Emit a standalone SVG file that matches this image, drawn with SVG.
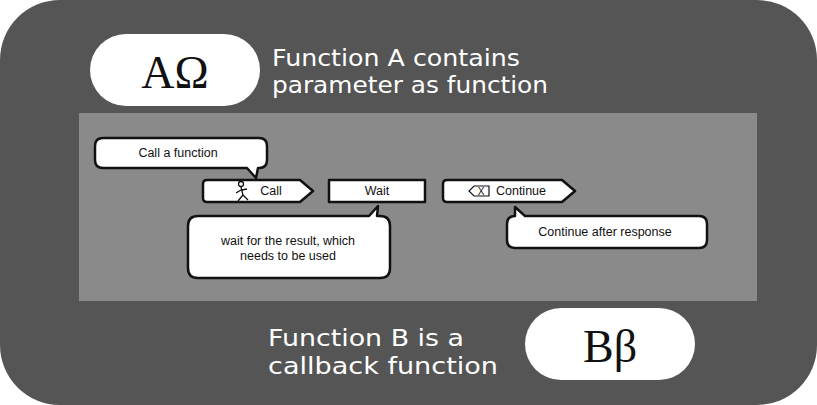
<svg xmlns="http://www.w3.org/2000/svg" width="817" height="405" viewBox="0 0 817 405">
<style>
.w{fill:#fff;stroke:#111;stroke-width:2.5;stroke-linejoin:round}
.t{font-family:"Liberation Sans",Arial,sans-serif;font-size:12.5px;fill:#111;text-anchor:middle}
.h{font-family:"DejaVu Sans",sans-serif;font-size:23px;fill:#fff}
.g{font-family:"Liberation Serif","Times New Roman",serif;font-size:46px;fill:#111;text-anchor:middle}
</style>
<rect x="0" y="0" width="817" height="405" rx="60" fill="#555"/>
<rect x="79" y="113" width="678" height="188" fill="#8a8a8a"/>
<g id="pillA"><rect x="90" y="34" width="170" height="72" rx="36" fill="#fff"/><text class="g" x="175" y="88">AΩ</text></g>
<g id="labelA"><text class="h" x="272" y="66" textLength="248" lengthAdjust="spacingAndGlyphs">Function A contains</text><text class="h" x="272" y="93" textLength="276" lengthAdjust="spacingAndGlyphs">parameter as function</text></g>
<g id="pillB"><rect x="525" y="308" width="170" height="72" rx="36" fill="#fff"/><text class="g" x="610" y="362">Bβ</text></g>
<g id="labelB"><text class="h" x="268" y="346" textLength="196" lengthAdjust="spacingAndGlyphs">Function B is a</text><text class="h" x="268" y="374" textLength="230" lengthAdjust="spacingAndGlyphs">callback function</text></g>
<g id="bubbleCall"><path class="w" d="M103,138 H259 Q267,138 267,146 V160 Q267,168 259,168 H258 L256,178 L247,168 H103 Q95,168 95,160 V146 Q95,138 103,138 Z"/><text class="t" x="178" y="157">Call a function</text></g>
<g id="call"><path class="w" d="M207,180 H300 L313,191 L300,202 H207 Q203,202 203,198 V184 Q203,180 207,180 Z"/>
<g fill="none" stroke="#111" stroke-width="1.3"><circle cx="241" cy="184" r="2.5"/><path d="M241,187 L243,195 L238,201 M243,195 L248,200 M241,190 L236,193 M242,190 L247,189"/></g>
<text class="t" x="271" y="195">Call</text></g>
<g id="wait"><rect class="w" x="329" y="180" width="96" height="22"/><text class="t" x="377" y="195">Wait</text></g>
<g id="continue"><path class="w" d="M447,180 H562 L575,191 L562,202 H447 Q443,202 443,198 V184 Q443,180 447,180 Z"/>
<path d="M474,186 H489 V196 H474 L469,191 Z" fill="none" stroke="#111" stroke-width="1.2"/><text x="481" y="195" font-family="Liberation Sans,sans-serif" font-size="10" text-anchor="middle" fill="#111">X</text>
<text class="t" x="521" y="195">Continue</text></g>
<g id="bubbleWait"><path class="w" d="M198,216 H369 L378,206 L377,216 H380 Q390,216 390,226 V268 Q390,278 380,278 H198 Q188,278 188,268 V226 Q188,216 198,216 Z"/><text class="t" x="288" y="245">wait for the result, which</text><text class="t" x="288" y="260">needs to be used</text></g>
<g id="bubbleCont"><path class="w" d="M515,216 L515,207 L525,216 H699 Q707,216 707,224 V240 Q707,248 699,248 H515 Q507,248 507,240 V224 Q507,216 515,216 Z"/><text class="t" x="605" y="236">Continue after response</text></g>
<g id="connectors"/>
</svg>
